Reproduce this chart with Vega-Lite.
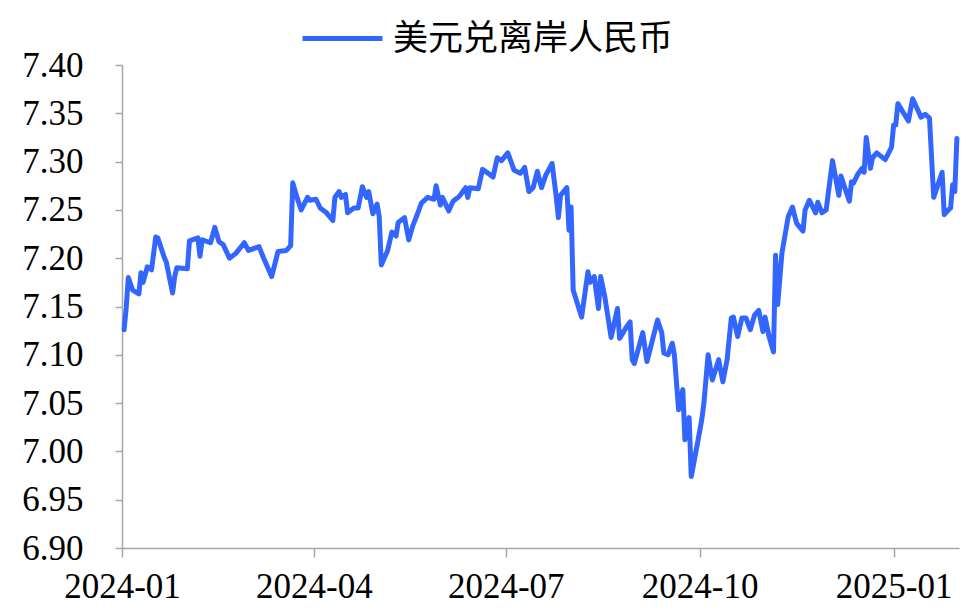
{
  "$schema": "https://vega.github.io/schema/vega-lite/v6.json",
  "width": 837,
  "height": 483,
  "autosize": {"type": "none"},
  "padding": {"left": 122, "top": 65, "right": 13, "bottom": 64},
  "background": "white",
  "config": {
    "view": {"stroke": null},
    "font": "Liberation Serif",
    "axis": {
      "domainColor": "#a6a6a6",
      "domainWidth": 1.5,
      "tickColor": "#a6a6a6",
      "tickWidth": 1.5,
      "labelColor": "#000000",
      "labelFont": "Liberation Serif",
      "labelFontSize": 35,
      "grid": false,
      "title": null
    }
  },
  "data": {
    "values": [
      {"date": "2024-01-02", "v": 7.126},
      {"date": "2024-01-03", "v": 7.149},
      {"date": "2024-01-04", "v": 7.180},
      {"date": "2024-01-06", "v": 7.167},
      {"date": "2024-01-09", "v": 7.163},
      {"date": "2024-01-10", "v": 7.185},
      {"date": "2024-01-11", "v": 7.175},
      {"date": "2024-01-13", "v": 7.191},
      {"date": "2024-01-15", "v": 7.188},
      {"date": "2024-01-17", "v": 7.222},
      {"date": "2024-01-18", "v": 7.221},
      {"date": "2024-01-21", "v": 7.201},
      {"date": "2024-01-22", "v": 7.196},
      {"date": "2024-01-25", "v": 7.164},
      {"date": "2024-01-26", "v": 7.181},
      {"date": "2024-01-27", "v": 7.190},
      {"date": "2024-02-01", "v": 7.189},
      {"date": "2024-02-02", "v": 7.218},
      {"date": "2024-02-06", "v": 7.221},
      {"date": "2024-02-07", "v": 7.202},
      {"date": "2024-02-08", "v": 7.219},
      {"date": "2024-02-12", "v": 7.216},
      {"date": "2024-02-14", "v": 7.232},
      {"date": "2024-02-16", "v": 7.217},
      {"date": "2024-02-18", "v": 7.214},
      {"date": "2024-02-21", "v": 7.200},
      {"date": "2024-02-24", "v": 7.205},
      {"date": "2024-02-28", "v": 7.216},
      {"date": "2024-03-01", "v": 7.208},
      {"date": "2024-03-06", "v": 7.212},
      {"date": "2024-03-08", "v": 7.201},
      {"date": "2024-03-12", "v": 7.181},
      {"date": "2024-03-15", "v": 7.207},
      {"date": "2024-03-19", "v": 7.208},
      {"date": "2024-03-21", "v": 7.213},
      {"date": "2024-03-22", "v": 7.278},
      {"date": "2024-03-24", "v": 7.263},
      {"date": "2024-03-26", "v": 7.250},
      {"date": "2024-03-29", "v": 7.263},
      {"date": "2024-03-30", "v": 7.260},
      {"date": "2024-04-02", "v": 7.261},
      {"date": "2024-04-04", "v": 7.252},
      {"date": "2024-04-07", "v": 7.247},
      {"date": "2024-04-10", "v": 7.239},
      {"date": "2024-04-11", "v": 7.263},
      {"date": "2024-04-13", "v": 7.269},
      {"date": "2024-04-14", "v": 7.263},
      {"date": "2024-04-16", "v": 7.266},
      {"date": "2024-04-17", "v": 7.247},
      {"date": "2024-04-20", "v": 7.252},
      {"date": "2024-04-22", "v": 7.252},
      {"date": "2024-04-24", "v": 7.274},
      {"date": "2024-04-26", "v": 7.263},
      {"date": "2024-04-27", "v": 7.269},
      {"date": "2024-04-29", "v": 7.246},
      {"date": "2024-05-01", "v": 7.256},
      {"date": "2024-05-02", "v": 7.243},
      {"date": "2024-05-03", "v": 7.193},
      {"date": "2024-05-06", "v": 7.208},
      {"date": "2024-05-08", "v": 7.227},
      {"date": "2024-05-10", "v": 7.223},
      {"date": "2024-05-11", "v": 7.237},
      {"date": "2024-05-14", "v": 7.242},
      {"date": "2024-05-16", "v": 7.219},
      {"date": "2024-05-18", "v": 7.234},
      {"date": "2024-05-20", "v": 7.245},
      {"date": "2024-05-22", "v": 7.257},
      {"date": "2024-05-25", "v": 7.263},
      {"date": "2024-05-28", "v": 7.261},
      {"date": "2024-05-29", "v": 7.275},
      {"date": "2024-05-31", "v": 7.255},
      {"date": "2024-06-01", "v": 7.263},
      {"date": "2024-06-04", "v": 7.249},
      {"date": "2024-06-06", "v": 7.259},
      {"date": "2024-06-09", "v": 7.264},
      {"date": "2024-06-11", "v": 7.270},
      {"date": "2024-06-12", "v": 7.273},
      {"date": "2024-06-13", "v": 7.263},
      {"date": "2024-06-14", "v": 7.273},
      {"date": "2024-06-18", "v": 7.272},
      {"date": "2024-06-20", "v": 7.292},
      {"date": "2024-06-22", "v": 7.289},
      {"date": "2024-06-25", "v": 7.284},
      {"date": "2024-06-27", "v": 7.304},
      {"date": "2024-06-29", "v": 7.301},
      {"date": "2024-07-02", "v": 7.309},
      {"date": "2024-07-05", "v": 7.291},
      {"date": "2024-07-08", "v": 7.288},
      {"date": "2024-07-10", "v": 7.294},
      {"date": "2024-07-12", "v": 7.269},
      {"date": "2024-07-14", "v": 7.273},
      {"date": "2024-07-16", "v": 7.290},
      {"date": "2024-07-18", "v": 7.273},
      {"date": "2024-07-20", "v": 7.286},
      {"date": "2024-07-23", "v": 7.298},
      {"date": "2024-07-25", "v": 7.263},
      {"date": "2024-07-26", "v": 7.242},
      {"date": "2024-07-27", "v": 7.265},
      {"date": "2024-07-30", "v": 7.273},
      {"date": "2024-07-31", "v": 7.229},
      {"date": "2024-08-01", "v": 7.253},
      {"date": "2024-08-02", "v": 7.167},
      {"date": "2024-08-06", "v": 7.139},
      {"date": "2024-08-09", "v": 7.186},
      {"date": "2024-08-10", "v": 7.175},
      {"date": "2024-08-12", "v": 7.181},
      {"date": "2024-08-14", "v": 7.148},
      {"date": "2024-08-15", "v": 7.181},
      {"date": "2024-08-17", "v": 7.160},
      {"date": "2024-08-20", "v": 7.118},
      {"date": "2024-08-23", "v": 7.148},
      {"date": "2024-08-24", "v": 7.117},
      {"date": "2024-08-26", "v": 7.124},
      {"date": "2024-08-27", "v": 7.128},
      {"date": "2024-08-29", "v": 7.134},
      {"date": "2024-08-30", "v": 7.095},
      {"date": "2024-08-31", "v": 7.091},
      {"date": "2024-09-04", "v": 7.123},
      {"date": "2024-09-06", "v": 7.093},
      {"date": "2024-09-11", "v": 7.136},
      {"date": "2024-09-13", "v": 7.123},
      {"date": "2024-09-14", "v": 7.102},
      {"date": "2024-09-16", "v": 7.100},
      {"date": "2024-09-18", "v": 7.112},
      {"date": "2024-09-19", "v": 7.100},
      {"date": "2024-09-21", "v": 7.043},
      {"date": "2024-09-23", "v": 7.064},
      {"date": "2024-09-24", "v": 7.012},
      {"date": "2024-09-26", "v": 7.035},
      {"date": "2024-09-27", "v": 6.974},
      {"date": "2024-09-30", "v": 7.009},
      {"date": "2024-10-02", "v": 7.033},
      {"date": "2024-10-03", "v": 7.050},
      {"date": "2024-10-05", "v": 7.100},
      {"date": "2024-10-07", "v": 7.074},
      {"date": "2024-10-10", "v": 7.095},
      {"date": "2024-10-12", "v": 7.072},
      {"date": "2024-10-14", "v": 7.095},
      {"date": "2024-10-16", "v": 7.138},
      {"date": "2024-10-17", "v": 7.139},
      {"date": "2024-10-19", "v": 7.119},
      {"date": "2024-10-21", "v": 7.138},
      {"date": "2024-10-23", "v": 7.138},
      {"date": "2024-10-25", "v": 7.126},
      {"date": "2024-10-27", "v": 7.141},
      {"date": "2024-10-29", "v": 7.146},
      {"date": "2024-10-31", "v": 7.124},
      {"date": "2024-11-01", "v": 7.139},
      {"date": "2024-11-03", "v": 7.118},
      {"date": "2024-11-05", "v": 7.103},
      {"date": "2024-11-06", "v": 7.203},
      {"date": "2024-11-07", "v": 7.152},
      {"date": "2024-11-09", "v": 7.205},
      {"date": "2024-11-12", "v": 7.243},
      {"date": "2024-11-14", "v": 7.253},
      {"date": "2024-11-16", "v": 7.236},
      {"date": "2024-11-19", "v": 7.228},
      {"date": "2024-11-20", "v": 7.250},
      {"date": "2024-11-22", "v": 7.260},
      {"date": "2024-11-25", "v": 7.247},
      {"date": "2024-11-26", "v": 7.258},
      {"date": "2024-11-28", "v": 7.247},
      {"date": "2024-11-30", "v": 7.250},
      {"date": "2024-12-03", "v": 7.301},
      {"date": "2024-12-06", "v": 7.265},
      {"date": "2024-12-07", "v": 7.285},
      {"date": "2024-12-11", "v": 7.259},
      {"date": "2024-12-12", "v": 7.279},
      {"date": "2024-12-13", "v": 7.278},
      {"date": "2024-12-15", "v": 7.287},
      {"date": "2024-12-17", "v": 7.293},
      {"date": "2024-12-18", "v": 7.289},
      {"date": "2024-12-19", "v": 7.325},
      {"date": "2024-12-21", "v": 7.293},
      {"date": "2024-12-22", "v": 7.304},
      {"date": "2024-12-24", "v": 7.309},
      {"date": "2024-12-28", "v": 7.302},
      {"date": "2024-12-31", "v": 7.315},
      {"date": "2025-01-01", "v": 7.338},
      {"date": "2025-01-02", "v": 7.338},
      {"date": "2025-01-03", "v": 7.360},
      {"date": "2025-01-08", "v": 7.342},
      {"date": "2025-01-10", "v": 7.365},
      {"date": "2025-01-14", "v": 7.346},
      {"date": "2025-01-16", "v": 7.349},
      {"date": "2025-01-18", "v": 7.345},
      {"date": "2025-01-20", "v": 7.263},
      {"date": "2025-01-22", "v": 7.276},
      {"date": "2025-01-24", "v": 7.289},
      {"date": "2025-01-25", "v": 7.245},
      {"date": "2025-01-27", "v": 7.250},
      {"date": "2025-01-28", "v": 7.252},
      {"date": "2025-01-29", "v": 7.276},
      {"date": "2025-01-30", "v": 7.269},
      {"date": "2025-01-31", "v": 7.324}
    ]
  },
  "mark": {"type": "line", "strokeWidth": 5, "strokeJoin": "round", "strokeCap": "round"},
  "encoding": {
    "x": {
      "field": "date",
      "type": "temporal",
      "scale": {
        "type": "utc",
        "domain": [
          {"year": 2024, "month": 1, "date": 1, "utc": true},
          {"year": 2025, "month": 2, "date": 1, "utc": true}
        ]
      },
      "axis": {
        "values": [
          {"year": 2024, "month": 1, "date": 1, "utc": true},
          {"year": 2024, "month": 4, "date": 1, "utc": true},
          {"year": 2024, "month": 7, "date": 1, "utc": true},
          {"year": 2024, "month": 10, "date": 1, "utc": true},
          {"year": 2025, "month": 1, "date": 1, "utc": true}
        ],
        "labelExpr": "utcFormat(datum.value, '%Y-%m')",
        "tickSize": 9,
        "labelPadding": 12,
        "labelFlush": false,
        "labelOverlap": false
      }
    },
    "y": {
      "field": "v",
      "type": "quantitative",
      "scale": {"domain": [6.9, 7.4], "zero": false, "nice": false},
      "axis": {
        "values": [6.9, 6.95, 7.0, 7.05, 7.1, 7.15, 7.2, 7.25, 7.3, 7.35, 7.4],
        "format": ".2f",
        "tickSize": 7,
        "labelPadding": 32,
        "labelOverlap": false
      }
    },
    "color": {
      "datum": "美元兑离岸人民币",
      "type": "nominal",
      "scale": {"range": ["#3366ff"]},
      "legend": {
        "orient": "none",
        "legendX": 178,
        "legendY": -69,
        "title": null,
        "symbolType": "stroke",
        "symbolSize": 6400,
        "symbolStrokeWidth": 5,
        "labelFont": "Liberation Serif, Noto Sans CJK SC",
        "labelFontSize": 35,
        "labelColor": "#000000",
        "labelOffset": 8,
        "labelLimit": 500,
        "padding": 0
      }
    }
  }
}
